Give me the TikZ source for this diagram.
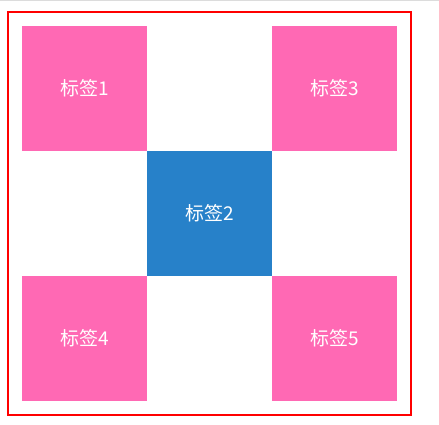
\documentclass[tikz,border=0pt]{standalone}
\usepackage{fontspec}
\setmainfont{Noto Sans CJK SC}
\usetikzlibrary{positioning}

\definecolor{tagpink}{HTML}{FF69B4}
\definecolor{tagblue}{HTML}{2781C9}
\definecolor{framered}{HTML}{FF0000}
\definecolor{topgray}{HTML}{DCDCDC}

\begin{document}
\begin{tikzpicture}[
    % one unit is one pixel of the page, y runs down
    x=1pt, y=-1pt,
    cell/.style={
        rectangle,
        minimum size=125pt,
        inner sep=0pt,
        outer sep=0pt,
        text=white,
        font=\fontsize{19}{19}\selectfont
    },
    pinkcell/.style={cell, fill=tagpink},
    bluecell/.style={cell, fill=tagblue},
    frame/.style={
        draw=framered,
        line width=2pt
    }
]
    \useasboundingbox (0,0) rectangle (439,425);

    % --- thin rule along the top ---
    \draw[topgray, line width=1.5pt] (0,0.75) -- (439,0.75);

    % --- 1. Place cells ---
    \node[pinkcell, anchor=north west] (tag1) at (22,26) {标签1};
    % the blue one sits diagonally under the first
    \node[bluecell] (tag2) [below right=0pt of tag1] {标签2};
    \node[pinkcell] (tag3) [above right=0pt of tag2] {标签3};
    \node[pinkcell] (tag4) [below left=0pt of tag2] {标签4};
    \node[pinkcell] (tag5) [below right=0pt of tag2] {标签5};

    % --- 2. Red frame round the grid ---
    \draw[frame] (8,12) rectangle (411,415);

\end{tikzpicture}
\end{document}
